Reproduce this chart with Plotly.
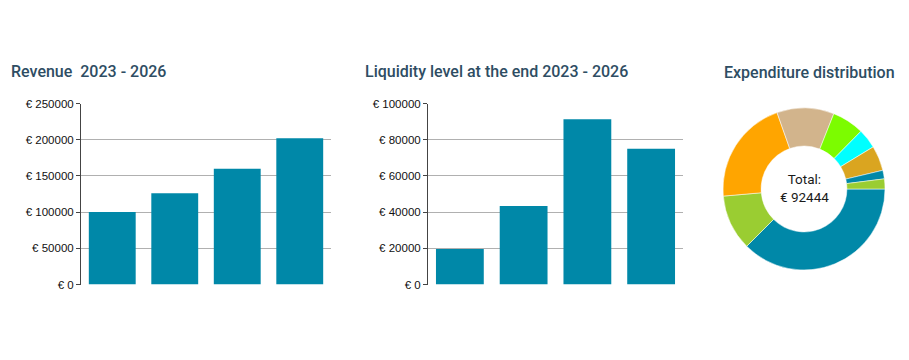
import plotly.graph_objects as go

years = ["2023", "2024", "2025", "2026"]
revenue = [100000, 126000, 160000, 202000]
liquidity = [19600, 43400, 91300, 75000]

exp_labels = ["Category 1", "Category 2", "Category 3", "Category 4", "Category 5",
              "Category 6", "Category 7", "Category 8", "Category 9"]
exp_values = [34667, 10261, 19413, 10539, 5916, 3605, 4622, 1572, 1849]
exp_colors = ["#0088a8", "#9acd32", "#ffa500", "#d2b48c", "#7cfc00",
              "#00ffff", "#daa520", "#0088a8", "#9acd32"]
total = sum(exp_values)

W, H = 909, 360
BAR = "#0088a8"
TITLE_COLOR = "#2e4d63"
TITLE_FONT = dict(family="Roboto, sans-serif", size=16, color=TITLE_COLOR, weight=500)
TICK_FONT = dict(family="Liberation Sans, Arial, sans-serif", size=11.5, color="#111")

fig = go.Figure()
fig.add_trace(go.Bar(x=years, y=revenue, marker=dict(color=BAR, line=dict(width=0)),
                     xaxis="x", yaxis="y", showlegend=False))
fig.add_trace(go.Bar(x=years, y=liquidity, marker=dict(color=BAR, line=dict(width=0)),
                     xaxis="x2", yaxis="y2", showlegend=False))
fig.add_trace(go.Pie(labels=exp_labels, values=exp_values, hole=0.53, sort=False,
                     direction="clockwise", rotation=90,
                     marker=dict(colors=exp_colors, line=dict(color="white", width=0.5)),
                     textinfo="none", showlegend=False,
                     domain=dict(x=[723 / W, 885 / W], y=[(H - 270) / H, (H - 108) / H])))

ybot = (H - 284.5) / H
ytop = (H - 103.5) / H

def yax(rng, dtick, anchor):
    return dict(range=rng, dtick=dtick, tickprefix="€ ", tickformat="d",
                showline=True, linecolor="#444", linewidth=1,
                ticks="outside", ticklen=4, tickcolor="#444",
                showgrid=True, gridcolor="#b0b0b0", gridwidth=1,
                zeroline=False, tickfont=TICK_FONT, domain=[ybot, ytop],
                anchor=anchor, fixedrange=True, automargin=False)

def xax(dom, anchor):
    return dict(domain=dom, anchor=anchor, showticklabels=False, showline=False,
                showgrid=False, zeroline=False, ticks="", fixedrange=True, automargin=False)

fig.update_layout(
    width=W, height=H,
    margin=dict(l=0, r=0, t=0, b=0, pad=0, autoexpand=False),
    paper_bgcolor="white", plot_bgcolor="white",
    bargap=0.25,
    xaxis=xax([81 / W, 331 / W], "y"),
    yaxis=yax([0, 250000], 50000, "x"),
    xaxis2=xax([428 / W, 683 / W], "y2"),
    yaxis2=yax([0, 100000], 20000, "x2"),
    annotations=[
        dict(text="Revenue  2023 - 2026", x=9 / W, y=(H - 72) / H, xref="paper", yref="paper",
             xanchor="left", yanchor="middle", showarrow=False, font=TITLE_FONT),
        dict(text="Liquidity level at the end 2023 - 2026", x=363 / W, y=(H - 72) / H,
             xref="paper", yref="paper", xanchor="left", yanchor="middle", showarrow=False,
             font=TITLE_FONT),
        dict(text="Expenditure distribution", x=809 / W, y=(H - 73) / H,
             xref="paper", yref="paper", xanchor="center", yanchor="middle", showarrow=False,
             font=TITLE_FONT),
        dict(text=f"Total:<br>€ {total}", x=804 / W, y=(H - 188) / H,
             xref="paper", yref="paper", xanchor="center", yanchor="middle", showarrow=False,
             font=dict(family="Roboto, sans-serif", size=13.5, color="#1a1a1a")),
    ],
)

fig.write_html(
    "out.html",
    config={"displayModeBar": False},
    post_script="document.body.style.margin='0';document.body.style.overflow='hidden';",
)
